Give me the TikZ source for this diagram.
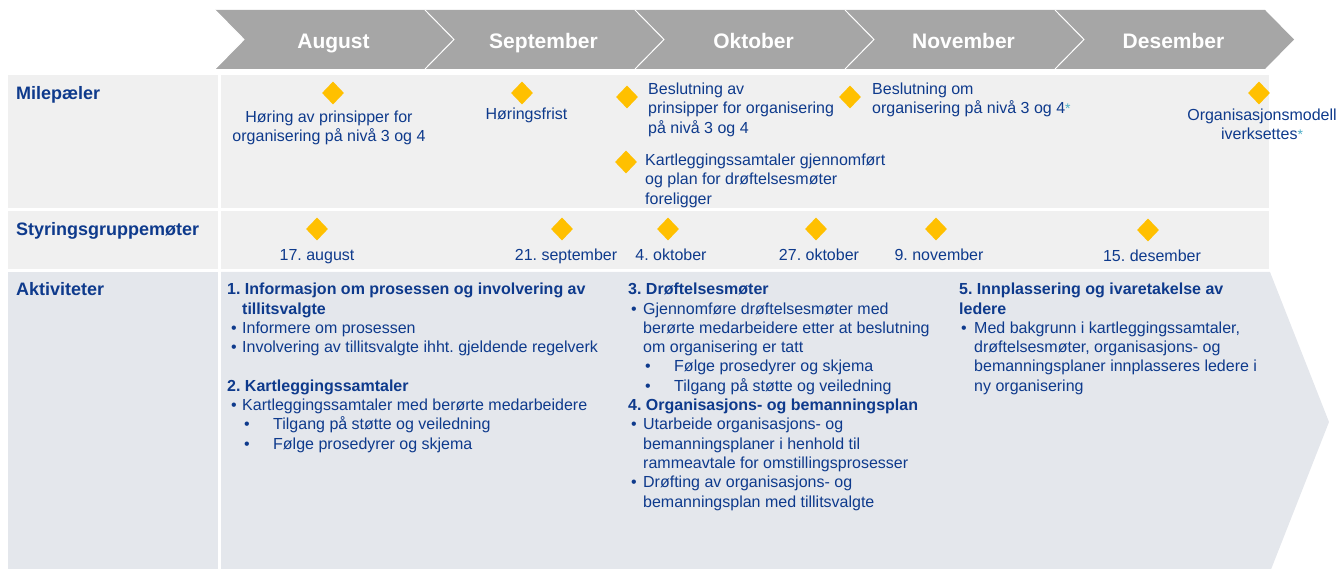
\documentclass[tikz,border=0pt]{standalone}
\usepackage{fontspec}
\setmainfont{Liberation Sans}
\usetikzlibrary{shapes.geometric}
\frenchspacing

\definecolor{navy}{HTML}{0E3A8C}
\definecolor{gold}{HTML}{FFC000}
\definecolor{chev}{HTML}{A6A6A6}
\definecolor{rowgray}{HTML}{F0F0F0}
\definecolor{actgray}{HTML}{E4E7EC}
\definecolor{startint}{HTML}{4BACC6}

\newcommand\bodyfont{\fontsize{16}{19.3}\selectfont}
\newcommand\firstline{\rule{0pt}{14pt}}
% indent, then a bullet in a box of the given width
\newcommand\bul[2]{\hspace*{#1pt}\makebox[#2pt][l]{•}}
\newcommand\tealstar{{\color{startint}\fontsize{14}{14}\selectfont*}}

\tikzset{
  month/.style={anchor=base, text=white, font=\bfseries\fontsize{21}{24}\selectfont, inner sep=0},
  rowlabel/.style={anchor=base west, text=navy, font=\bfseries\fontsize{18}{21}\selectfont, inner sep=0},
  gem/.style={diamond, fill=gold, inner sep=0, minimum width=22pt, minimum height=23pt},
  txt/.style={text=navy, font=\bodyfont, inner sep=0},
  block/.style={txt, align=left, anchor=north west},
  cblock/.style={txt, align=center, anchor=north},
  date/.style={txt, anchor=base},
}

\begin{document}
\begin{tikzpicture}[x=1pt,y=-1pt]
\useasboundingbox (0,0) rectangle (1336,569);

% month chevrons
\foreach \m [count=\i from 0] in {August,September,Oktober,November,Desember}{
  \pgfmathsetmacro\L{215+210*\i}
  \fill[chev] (\L,10) -- (\L+210,10) -- (\L+239,39.5) -- (\L+210,69) -- (\L,69) -- (\L+29,39.5) -- cycle;
  \draw[white, line width=1pt] (\L,10) -- (\L+29,39.5) -- (\L,69);
  \node[month] (month\i) at (\L+118.5,48.5) {\m};
}

% row backgrounds
\fill[rowgray] (8,75) rectangle (218,208);
\fill[rowgray] (221,75) rectangle (1269,208);
\fill[rowgray] (8,211) rectangle (218,269);
\fill[rowgray] (221,211) rectangle (1269,269);
\fill[actgray] (8,272) rectangle (218,572);
\fill[actgray] (221,272) -- (1270,272) -- (1329,422) -- (1270,572) -- (221,572) -- cycle;

% row labels
\node[rowlabel] (lmile) at (16,100) {Milepæler};
\node[rowlabel] (lstyr) at (16,235.6) {Styringsgruppemøter};
\node[rowlabel] (lakt) at (16,296) {Aktiviteter};

% milestones
\node[gem] (g1) at (333,93) {};
\node[cblock] (t1) at (329,108.5) {\firstline Høring av prinsipper for\\organisering på nivå 3 og 4};
\node[gem] (g2) at (522,93) {};
\node[cblock] (t2) at (526.5,105.5) {\firstline Høringsfrist};
\node[gem] (g3) at (627,97) {};
\node[block] (t3) at (648,80.5) {\firstline Beslutning av\\prinsipper for organisering\\på nivå 3 og 4};
\node[gem] (g4) at (626,162) {};
\node[block] (t4) at (645,151.5) {\firstline Kartleggingssamtaler gjennomført\\og plan for drøftelsesmøter\\foreligger};
\node[gem] (g5) at (850,97) {};
\node[block] (t5) at (872,80.5) {\firstline Beslutning om\\organisering på nivå 3 og 4\tealstar};
\node[gem] (g6) at (1259,93) {};
\node[cblock] (t6) at (1262,106.5) {\firstline Organisasjonsmodell\\iverksettes\tealstar};

% steering group meetings
\node[gem] (s1) at (317,229) {};
\node[date] (d1) at (317,260.5) {17. august};
\node[gem] (s2) at (562,229) {};
\node[date] (d2) at (566,260.5) {21. september};
\node[gem] (s3) at (668,229) {};
\node[date] (d3) at (671,260.5) {4. oktober};
\node[gem] (s4) at (816,229) {};
\node[date] (d4) at (819,260.5) {27. oktober};
\node[gem] (s5) at (936,229) {};
\node[date] (d5) at (939,260.5) {9. november};
\node[gem] (s6) at (1148,230) {};
\node[date] (d6) at (1152,262) {15. desember};

% activities
\node[block] (a1) at (227,280.5) {\firstline\textbf{1. Informasjon om prosessen og involvering av}\\
  \hspace*{15pt}\textbf{tillitsvalgte}\\
  \bul{4}{11}Informere om prosessen\\
  \bul{4}{11}Involvering av tillitsvalgte ihht. gjeldende regelverk\\[19.3pt]
  \textbf{2. Kartleggingssamtaler}\\
  \bul{4}{11}Kartleggingssamtaler med berørte medarbeidere\\
  \bul{17}{29}Tilgang på støtte og veiledning\\
  \bul{17}{29}Følge prosedyrer og skjema};

\node[block] (a2) at (628,280.5) {\firstline\textbf{3. Drøftelsesmøter}\\
  \bul{3}{12}Gjennomføre drøftelsesmøter med\\
  \hspace*{15pt}berørte medarbeidere etter at beslutning\\
  \hspace*{15pt}om organisering er tatt\\
  \bul{17}{29}Følge prosedyrer og skjema\\
  \bul{17}{29}Tilgang på støtte og veiledning\\
  \textbf{4. Organisasjons- og bemanningsplan}\\
  \bul{3}{12}Utarbeide organisasjons- og\\
  \hspace*{15pt}bemanningsplaner i henhold til\\
  \hspace*{15pt}rammeavtale for omstillingsprosesser\\
  \bul{3}{12}Drøfting av organisasjons- og\\
  \hspace*{15pt}bemanningsplan med tillitsvalgte};

\node[block] (a3) at (959,280.5) {\firstline\textbf{5. Innplassering og ivaretakelse av}\\
  \textbf{ledere}\\
  \bul{2}{13}Med bakgrunn i kartleggingssamtaler,\\
  \hspace*{15pt}drøftelsesmøter, organisasjons- og\\
  \hspace*{15pt}bemanningsplaner innplasseres ledere i\\
  \hspace*{15pt}ny organisering};
\end{tikzpicture}
\end{document}
